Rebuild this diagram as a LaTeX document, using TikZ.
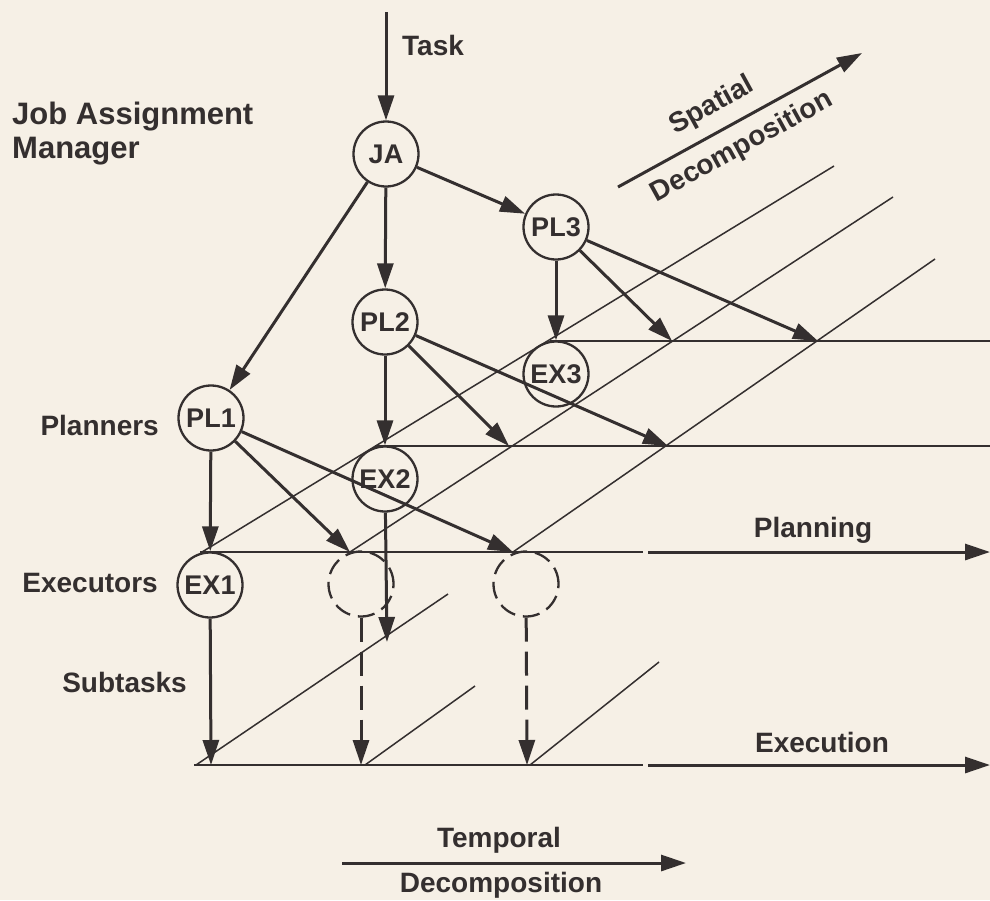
\documentclass[tikz,border=0pt]{standalone}
\usepackage{fontspec}
\setmainfont{Liberation Sans}
\usetikzlibrary{arrows.meta}
\definecolor{ink}{RGB}{52,47,47}
\definecolor{paper}{RGB}{246,240,230}
\begin{document}
\begin{tikzpicture}[x=1pt,y=-1pt,
  lbl/.style={text=ink, font=\fontsize{28}{34}\selectfont\bfseries, inner sep=0pt},
  agent/.style={circle, draw=ink, line width=2.3pt, minimum size=65pt, inner sep=0pt,
                text=ink, font=\fontsize{27}{27}\selectfont\bfseries},
  ghost/.style={agent, dash pattern=on 17pt off 8pt},
  tip/.style={-{Triangle[length=25pt,width=16pt]}},
  flow/.style={draw=ink, line width=3pt, tip},
  dflow/.style={flow, dash pattern=on 24pt off 10pt},
  plane/.style={draw=ink, line width=1.5pt},
]
\fill[paper] (0,0) rectangle (990,900);
\useasboundingbox (0,0) rectangle (990,900);

% agents
\node[agent] (JA)  at (386,154) {JA};
\node[agent] (PL1) at (211,418) {PL1};
\node[agent] (PL2) at (385,322) {PL2};
\node[agent] (PL3) at (556,227) {PL3};
\node[agent] (EX1) at (210,585) {EX1};
\node[agent] (EX2) at (385,479) {EX2};
\node[agent] (EX3) at (556,374) {EX3};
\node[ghost] (G1)  at (361,584) {};
\node[ghost] (G2)  at (526,584) {};

% coordinates of the planes
\coordinate (P1s) at (200,552);
\coordinate (P1g) at (643,552);
\coordinate (P1h) at (648,552);
\coordinate (P1e) at (990,552);
\coordinate (P2s) at (375,446);
\coordinate (P2e) at (990,446);
\coordinate (P3s) at (550,341);
\coordinate (P3e) at (990,341);
\coordinate (A1) at (202,552);
\coordinate (A1e) at (834,166);
\coordinate (A2) at (350,552);
\coordinate (A2e) at (893,197);
\coordinate (A3) at (513,552);
\coordinate (A3e) at (935,259);
\coordinate (B2) at (509,446);
\coordinate (B3) at (668,446);
\coordinate (C2) at (672,341);
\coordinate (C3) at (818,341);
% execution plane
\coordinate (E0) at (194,765);
\coordinate (Eg) at (643,765);
\coordinate (Eh) at (648,765);
\coordinate (Ee) at (990,765);
\coordinate (D1) at (196,765);
\coordinate (D1e) at (448,594);
\coordinate (D2) at (365,765);
\coordinate (D2e) at (475,686);
\coordinate (D3) at (530,765);
\coordinate (D3e) at (659,662);
\coordinate (T1) at (211,765);
\coordinate (T2) at (361,765);
\coordinate (T3) at (527,765);
\coordinate (X2) at (387,642);
\coordinate (TaskTop) at (386,12);
\coordinate (S0) at (618,187);
\coordinate (S1) at (862,53);
\coordinate (H0) at (342,863);
\coordinate (H1) at (686,863);

% plane lines
\draw[plane] (P1s) -- (P1g);
\draw[flow] (P1h) -- (P1e);
\draw[plane] (P2s) -- (P2e);
\draw[plane] (P3s) -- (P3e);
\draw[plane] (A1) -- (A1e);
\draw[plane] (A2) -- (A2e);
\draw[plane] (A3) -- (A3e);
\draw[plane] (E0) -- (Eg);
\draw[flow] (Eh) -- (Ee);
\draw[plane] (D1) -- (D1e);
\draw[plane] (D2) -- (D2e);
\draw[plane] (D3) -- (D3e);

% task flow
\draw[flow] (TaskTop) -- (JA);
\draw[flow] (JA) -- (PL1);
\draw[flow] (JA) -- (PL2);
\draw[flow] (JA) -- (PL3);
\draw[flow] (PL1) -- (EX1);
\draw[flow] (PL1) -- (A2);
\draw[flow] (PL1) -- (A3);
\draw[flow] (PL2) -- (EX2);
\draw[flow] (PL2) -- (B2);
\draw[flow] (PL2) -- (B3);
\draw[flow] (PL3) -- (EX3);
\draw[flow] (PL3) -- (C2);
\draw[flow] (PL3) -- (C3);
\draw[flow] (EX1) -- (T1);
\draw[flow] (EX2) -- (X2);
\draw[dflow] (G1) -- (T2);
\draw[dflow] (G2) -- (T3);

% decomposition arrows
\draw[flow] (S0) -- (S1);
\draw[flow] (H0) -- (H1);

% labels
\node[lbl, anchor=base west] (task) at (402,55) {Task};
\node[lbl, anchor=north west, align=left, font=\fontsize{31}{34}\selectfont\bfseries] (jam) at (12,102) {Job Assignment\\Manager};
\node[lbl, anchor=base east] (planners) at (159,435) {Planners};
\node[lbl, anchor=base east] (executors) at (158,592) {Executors};
\node[lbl, anchor=base east] (subtasks) at (187,692) {Subtasks};
\node[lbl, anchor=base] (planning) at (813,537) {Planning};
\node[lbl, anchor=base] (execution) at (822,752) {Execution};
\node[lbl, anchor=base] (temporal) at (499,847) {Temporal};
\node[lbl, anchor=base] (tdecomp) at (501,892) {Decomposition};
\node[lbl, rotate=28.8] (spatial) at (712,106) {Spatial};
\node[lbl, rotate=28.8] (sdecomp) at (742,147) {Decomposition};
\end{tikzpicture}
\end{document}
